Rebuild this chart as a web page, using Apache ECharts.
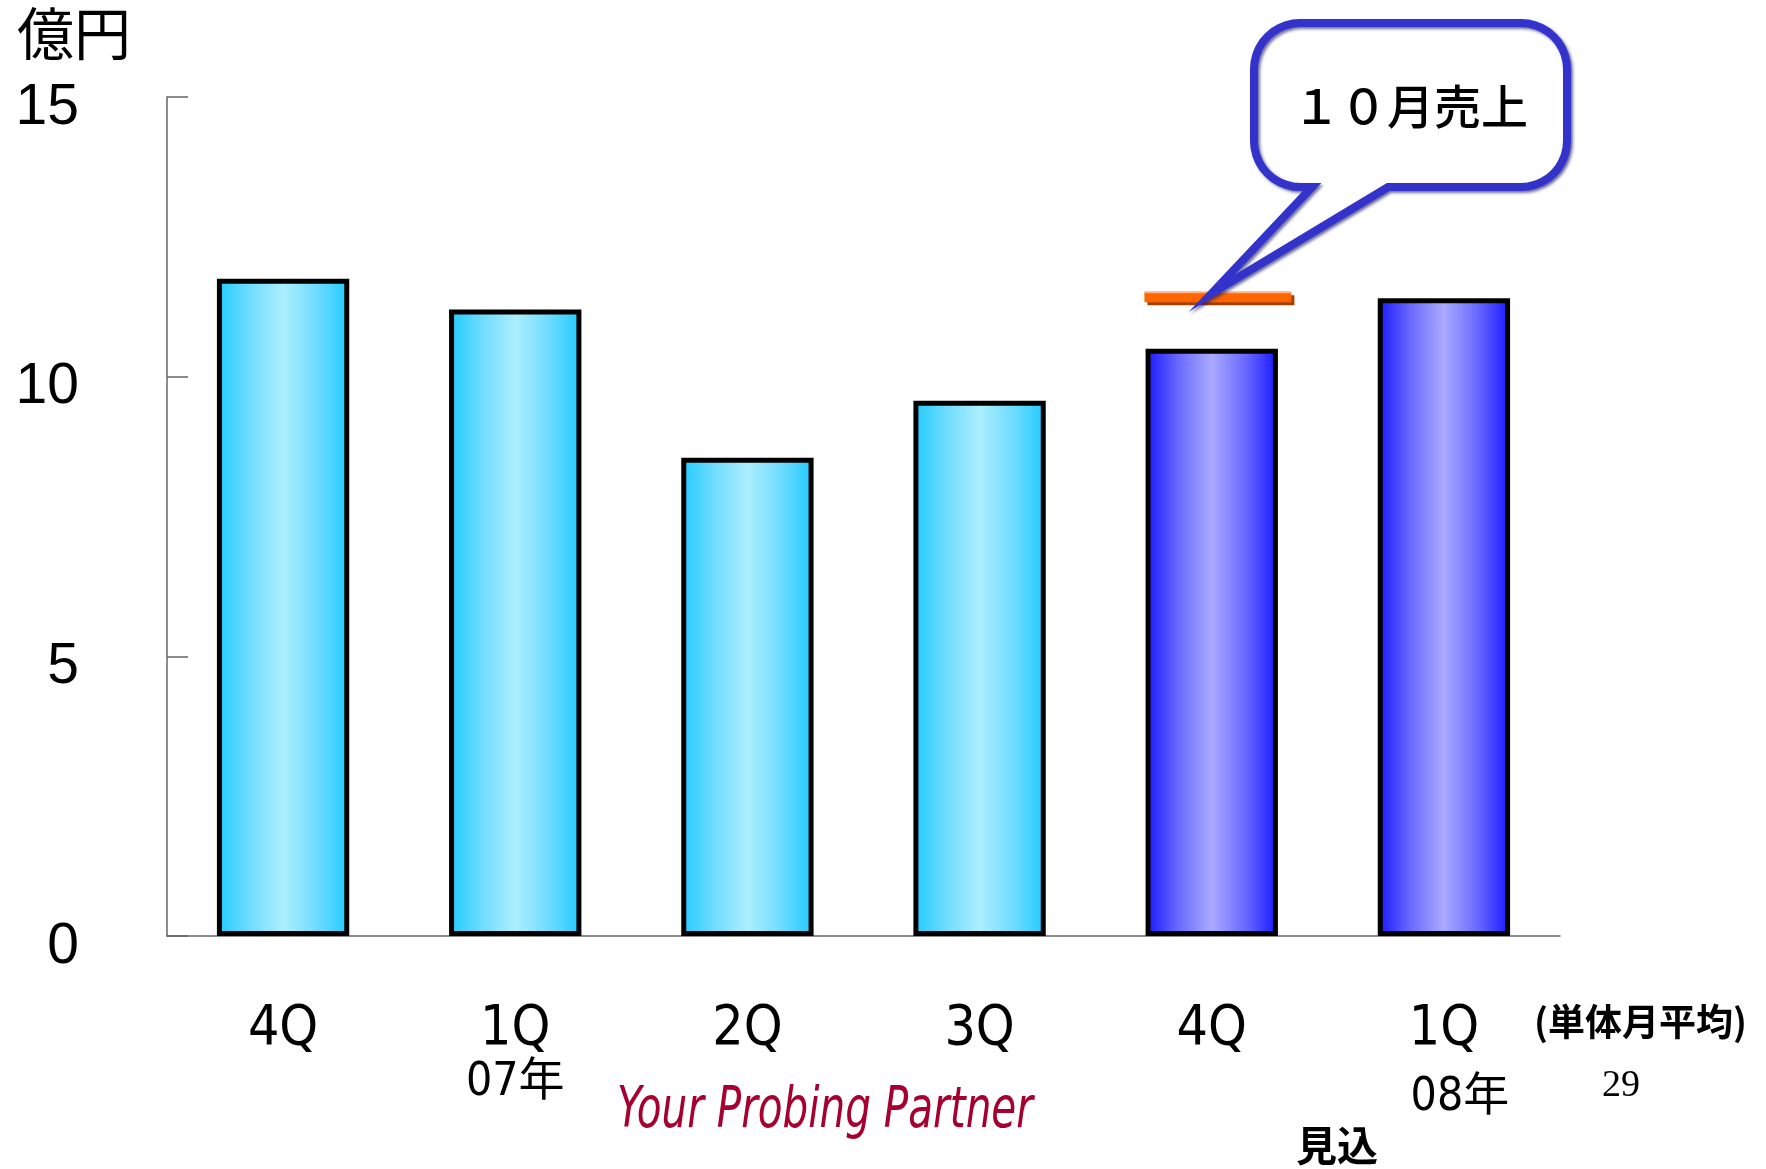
<!DOCTYPE html>
<html>
<head>
<meta charset="utf-8">
<script src="https://cdn.jsdelivr.net/npm/echarts@6/dist/echarts.min.js"></script>
<style>
  html, body { margin: 0; padding: 0; background: #fff; }
  #chart { width: 1766px; height: 1169px; }
</style>
</head>
<body>
<div id="chart"></div>
<script>
// 四半期ラベル
const categories = ['4Q', '1Q', '2Q', '3Q', '4Q', '1Q'];
// 年のラベル (空文字は表示なし)
const yearLabels = ['', '07年', '', '', '', '08年'];
// 単体月平均売上 (億円)
const sales = [11.75, 11.2, 8.55, 9.57, 10.5, 11.4];
// 見込の四半期
const isForecast = [false, false, false, false, true, true];
// 10月売上 (カテゴリ番号, 値)
const octoberSales = [[4, 11.42]];
// y軸
const yMin = 0;
const yMax = 15;
const yStep = 5;

const NARROW = '"Liberation Sans Narrow", "DejaVu Sans Condensed", "Noto Sans CJK JP", sans-serif';
const CJK = '"Noto Sans CJK JP", sans-serif';

const chartInstance = echarts.init(document.getElementById('chart'));

// バーのグラデーション
const cyanGrad = new echarts.graphic.LinearGradient(0, 0, 1, 0, [
  { offset: 0, color: '#1ecbff' },
  { offset: 0.25, color: '#70dcff' },
  { offset: 0.5, color: '#aceeff' },
  { offset: 0.75, color: '#70dcff' },
  { offset: 1, color: '#1ecbff' }
]);
const blueGrad = new echarts.graphic.LinearGradient(0, 0, 1, 0, [
  { offset: 0, color: '#1616ff' },
  { offset: 0.25, color: '#6a6aff' },
  { offset: 0.5, color: '#aaaaff' },
  { offset: 0.75, color: '#6a6aff' },
  { offset: 1, color: '#1616ff' }
]);

const barData = sales.map((v, i) => ({
  value: v,
  itemStyle: { color: isForecast[i] ? blueGrad : cyanGrad }
}));

const option = {
  animation: false,
  title: {
    text: '億円',
    left: 12,
    top: 0,
    textStyle: { fontFamily: CJK, fontSize: 57, fontWeight: 'normal', color: '#000' }
  },
  grid: { left: 167, right: 206, top: 97, bottom: 233, containLabel: false },
  xAxis: {
    type: 'category',
    data: categories,
    axisLine: { lineStyle: { color: '#666', width: 1.5 } },
    axisTick: { inside: true, length: 19, lineStyle: { color: '#666', width: 1.5 } },
    axisLabel: {
      margin: 65,
      color: '#000',
      formatter: function (val, idx) {
        const y = yearLabels[idx];
        if (!y) return '{q|' + val + '}';
        return '{q|' + val + '}\n{' + (idx === 5 ? 'y2' : 'y1') + '|' + y + '}';
      },
      rich: {
        q: { fontFamily: NARROW, fontSize: 55, lineHeight: 57, color: '#000' },
        y1: { fontFamily: NARROW, fontSize: 46, lineHeight: 50, color: '#000' },
        y2: { fontFamily: NARROW, fontSize: 46, lineHeight: 50, color: '#000', padding: [30, 0, 0, 32] }
      }
    }
  },
  yAxis: {
    type: 'value',
    min: yMin,
    max: yMax,
    interval: yStep,
    splitLine: { show: false },
    axisLine: { show: true, lineStyle: { color: '#666', width: 1.5 } },
    axisTick: { show: true, inside: true, length: 21, lineStyle: { color: '#666', width: 1.5 } },
    axisLabel: {
      margin: 88,
      formatter: '{v|{value}}',
      rich: {
        v: {
          color: '#000',
          fontFamily: '"Liberation Sans", Arial, sans-serif',
          fontSize: 57,
          padding: [22, 0, 0, 0]
        }
      }
    }
  },
  series: [
    {
      type: 'bar',
      data: barData,
      barWidth: '57%',
      itemStyle: { borderColor: '#000', borderWidth: 5 }
    },
    {
      // 10月売上の線
      type: 'custom',
      data: octoberSales,
      z: 5,
      renderItem: function (params, api) {
        const p = api.coord([api.value(0), api.value(1)]);
        const bw = api.size([1, 0])[0];
        const x = p[0] - bw * 0.29;
        const w = bw * 0.633;
        return {
          type: 'group',
          children: [
            { type: 'rect', shape: { x: x + 3, y: p[1] - 2, width: w, height: 10 }, style: { fill: '#a94000' } },
            { type: 'rect', shape: { x: x, y: p[1] - 5, width: w, height: 10 }, style: { fill: '#ff6600' } },
            { type: 'rect', shape: { x: x, y: p[1] - 6, width: w, height: 2 }, style: { fill: '#ffb080' } }
          ]
        };
      }
    }
  ],
  graphic: [
    {
      type: 'text', x: 617, y: 1084, scaleX: 0.79,
      style: {
        text: 'Your Probing Partner', fill: '#a50030',
        font: 'italic 57px ' + NARROW
      }
    },
    {
      type: 'text', left: 1534, top: 1003,
      style: { text: '(単体月平均)', fill: '#000', font: 'bold 37px ' + CJK }
    },
    {
      type: 'text', left: 1602, top: 1067,
      style: { text: '29', fill: '#000', font: '38px "Liberation Serif", "Times New Roman", serif' }
    },
    {
      type: 'text', left: 1296, top: 1125,
      style: { text: '見込', fill: '#000', font: 'bold 41px ' + CJK }
    }
  ]
};

chartInstance.setOption(option);

// 吹き出し (先端は10月売上の位置)
function bubblePoints(x0, y0, x1, y1, r, tl, tr, tip) {
  const pts = [];
  const arc = (cx, cy, a0, a1) => {
    for (let k = 0; k <= 10; k++) {
      const a = a0 + (a1 - a0) * k / 10;
      pts.push([cx + r * Math.cos(a), cy + r * Math.sin(a)]);
    }
  };
  pts.push([tr, y1]);
  arc(x1 - r, y1 - r, Math.PI / 2, 0);
  arc(x1 - r, y0 + r, 0, -Math.PI / 2);
  arc(x0 + r, y0 + r, -Math.PI / 2, -Math.PI);
  arc(x0 + r, y1 - r, Math.PI, Math.PI / 2);
  pts.push([tl, y1]);
  pts.push(tip);
  return pts;
}

const tip = chartInstance.convertToPixel({ gridIndex: 0 }, octoberSales[0]);
tip[1] -= 4;
const bx0 = 1254, by0 = 23, bx1 = 1567, by1 = 187;

chartInstance.setOption({
  graphic: option.graphic.concat([
    {
      type: 'polygon',
      shape: { points: bubblePoints(bx0, by0, bx1, by1, 46, bx0 + 58, bx0 + 134, tip) },
      style: {
        fill: '#fff', stroke: '#3333cc', lineWidth: 8, lineJoin: 'miter',
        shadowBlur: 3, shadowOffsetX: 2, shadowOffsetY: 2, shadowColor: 'rgba(20,20,100,0.6)'
      },
      z: 10
    },
    {
      type: 'text', x: (bx0 + bx1) / 2, y: 106, z: 11,
      style: {
        text: '１０月売上', fill: '#000', font: '500 47px ' + CJK,
        align: 'center', verticalAlign: 'middle'
      }
    }
  ])
});
</script>
</body>
</html>
